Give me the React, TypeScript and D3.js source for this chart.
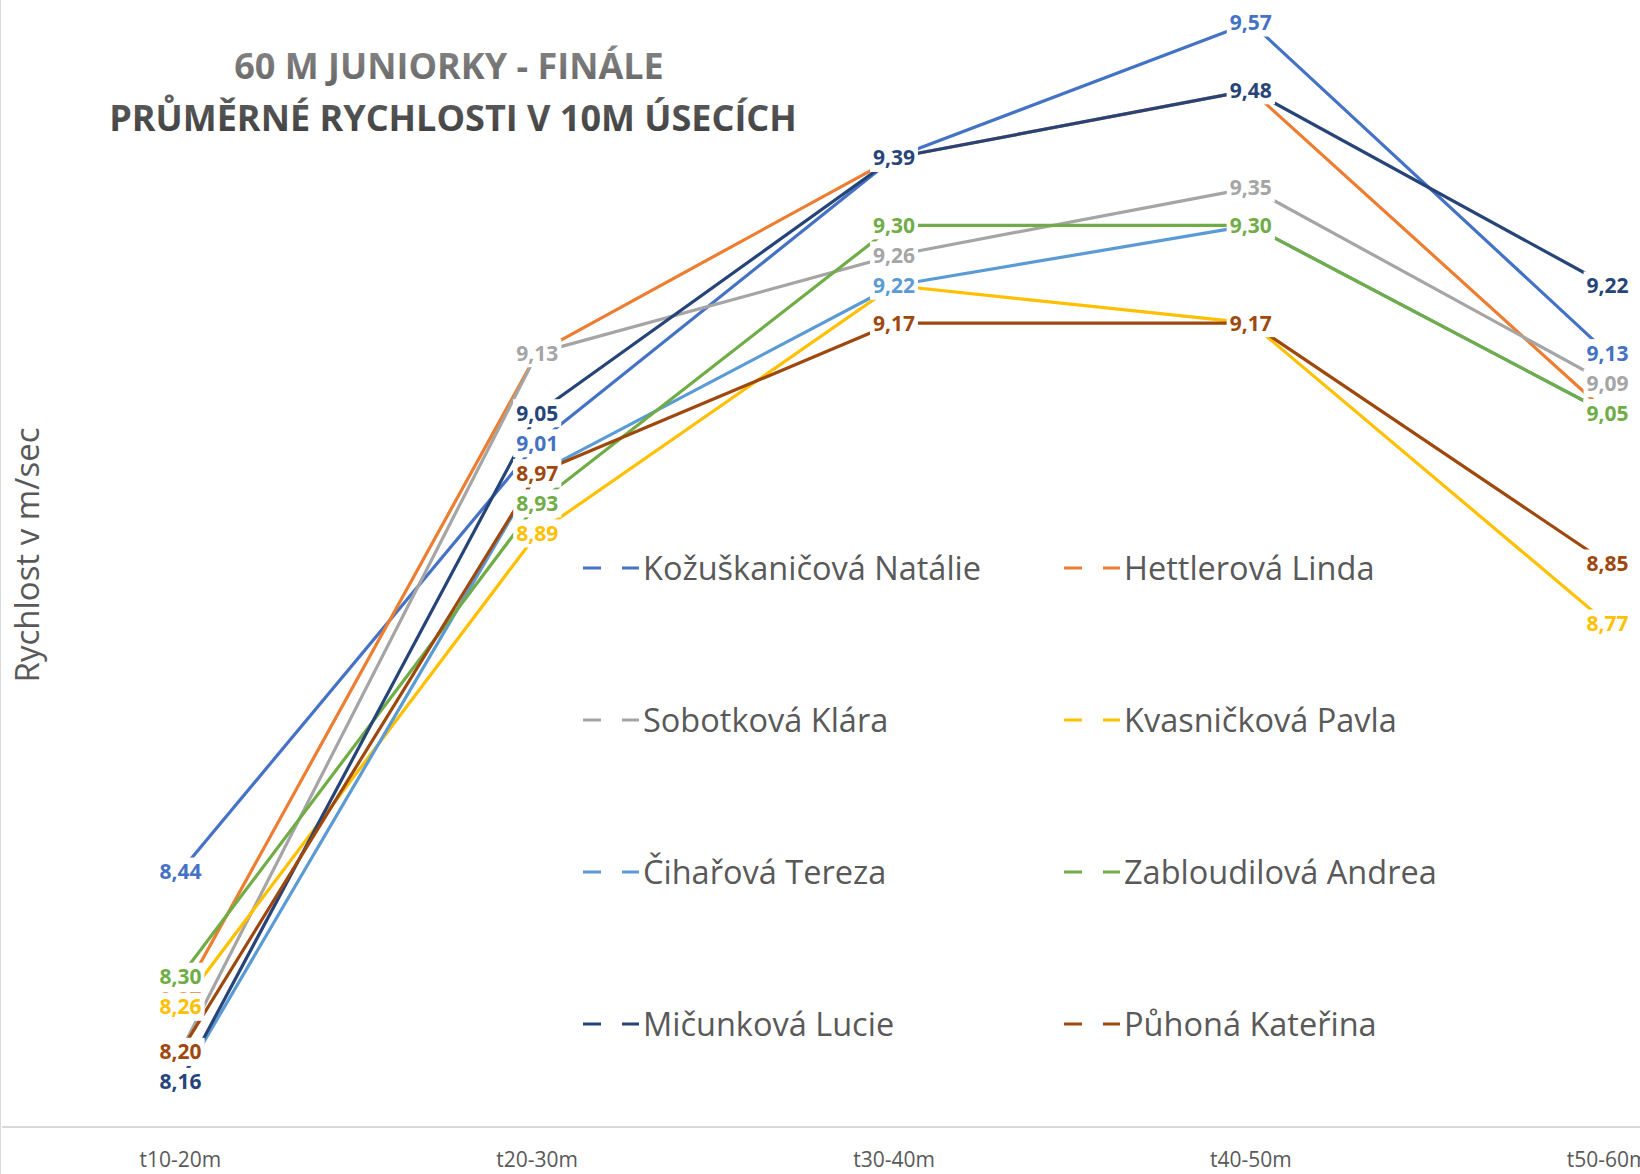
import React, { useEffect, useRef } from 'react';
import * as d3 from 'd3';

const WIDTH = 1640;
const HEIGHT = 1174;
// plot area runs past the right edge, the last category is cut off like in the original export
const PLOT = { left: 2, right: 1786, top: 0, bottom: 1127 };

const CATEGORIES = ['t10-20m', 't20-30m', 't30-40m', 't40-50m', 't50-60m'];

const KOZUSKANICOVA = [8.44, 9.01, 9.39, 9.57, 9.13];
const HETTLEROVA = [8.27, 9.13, 9.39, 9.48, 9.05];
const SOBOTKOVA = [8.2, 9.13, 9.26, 9.35, 9.09];
const KVASNICKOVA = [8.26, 8.89, 9.22, 9.17, 8.77];
const CIHAROVA = [8.16, 8.97, 9.22, 9.3, 9.05];
const ZABLOUDILOVA = [8.3, 8.93, 9.3, 9.3, 9.05];
const MICUNKOVA = [8.16, 9.05, 9.39, 9.48, 9.22];
const PUHONA = [8.2, 8.97, 9.17, 9.17, 8.85];

const NAMES = [
  'Kožuškaničová Natálie',
  'Hettlerová Linda',
  'Sobotková Klára',
  'Kvasničková Pavla',
  'Čihařová Tereza',
  'Zabloudilová Andrea',
  'Mičunková Lucie',
  'Půhoná Kateřina',
];
const VALUES = [KOZUSKANICOVA, HETTLEROVA, SOBOTKOVA, KVASNICKOVA, CIHAROVA, ZABLOUDILOVA, MICUNKOVA, PUHONA];
const COLORS = ['#4472C4', '#ED7D31', '#A5A5A5', '#FFC000', '#5B9BD5', '#70AD47', '#264478', '#9E480E'];

const Y_MIN = 8.1;
const Y_MAX = 9.6;

const FONT = '"Open Sans", "Noto Sans", sans-serif';
const TEXT_GREY = '#595959';

const fmt = (v) => d3.format('.2f')(v).replace('.', ',');

const App = () => {
  const svgRef = useRef(null);

  useEffect(() => {
    const svg = d3.select(svgRef.current);
    svg.selectAll('*').remove();

    const x = d3
      .scaleBand()
      .domain(CATEGORIES)
      .range([PLOT.left, PLOT.right])
      .padding(0);
    const cx = (c) => x(c) + x.bandwidth() / 2;

    const y = d3.scaleLinear().domain([Y_MIN, Y_MAX]).range([PLOT.bottom, PLOT.top]);

    // title gradient
    const defs = svg.append('defs');
    const grad = defs
      .append('linearGradient')
      .attr('id', 'titleGrad')
      .attr('x1', 0)
      .attr('y1', 0)
      .attr('x2', 0)
      .attr('y2', 1);
    grad.append('stop').attr('offset', '0%').attr('stop-color', '#8a8a8a');
    grad.append('stop').attr('offset', '100%').attr('stop-color', '#3a3a3a');

    svg.append('rect').attr('width', WIDTH).attr('height', HEIGHT).attr('fill', '#fff');

    // chart border (left edge only visible)
    svg
      .append('line')
      .attr('x1', 0.5)
      .attr('x2', 0.5)
      .attr('y1', 0)
      .attr('y2', HEIGHT)
      .attr('stroke', '#d9d9d9')
      .attr('stroke-width', 1);

    // category axis
    svg
      .append('line')
      .attr('x1', PLOT.left)
      .attr('x2', WIDTH)
      .attr('y1', PLOT.bottom)
      .attr('y2', PLOT.bottom)
      .attr('stroke', '#d9d9d9')
      .attr('stroke-width', 2);

    svg
      .append('g')
      .selectAll('text')
      .data(CATEGORIES)
      .join('text')
      .attr('x', (d) => cx(d))
      .attr('y', PLOT.bottom + 40)
      .attr('text-anchor', 'middle')
      .attr('font-family', FONT)
      .attr('font-size', 21)
      .attr('fill', TEXT_GREY)
      .text((d) => d);

    // y axis title
    svg
      .append('text')
      .attr('transform', 'translate(39,555) rotate(-90)')
      .attr('text-anchor', 'middle')
      .attr('font-family', FONT)
      .attr('font-size', 33)
      .attr('fill', TEXT_GREY)
      .text('Rychlost v m/sec');

    // title
    const title = svg
      .append('text')
      .attr('text-anchor', 'middle')
      .attr('font-family', FONT)
      .attr('font-weight', 700)
      .attr('font-size', 36)
      .attr('fill', 'url(#titleGrad)');
    title.append('tspan').attr('x', 449).attr('y', 79).text('60 M JUNIORKY - FINÁLE');
    title.append('tspan').attr('x', 453).attr('y', 131).text('PRŮMĚRNÉ RYCHLOSTI V 10M ÚSECÍCH');

    // lines
    const line = d3
      .line()
      .x((d, i) => cx(CATEGORIES[i]))
      .y((d) => y(d));

    svg
      .append('g')
      .selectAll('path')
      .data(VALUES)
      .join('path')
      .attr('d', (d) => line(d))
      .attr('fill', 'none')
      .attr('stroke', (d, i) => COLORS[i])
      .attr('stroke-width', 3.2)
      .attr('stroke-linejoin', 'round');

    // data labels, centred on the points with a white box
    const labels = svg.append('g');
    VALUES.forEach((vals, si) => {
      vals.forEach((v, ci) => {
        const g = labels.append('g').attr('transform', `translate(${cx(CATEGORIES[ci])},${y(v)})`);
        const rect = g.append('rect').attr('fill', '#fff');
        const t = g
          .append('text')
          .attr('text-anchor', 'middle')
          .attr('dy', '0.36em')
          .attr('font-family', FONT)
          .attr('font-weight', 700)
          .attr('font-size', 21)
          .attr('fill', COLORS[si])
          .text(fmt(v));
        const w = t.node().getComputedTextLength();
        rect
          .attr('x', -w / 2 - 3)
          .attr('y', -14)
          .attr('width', w + 6)
          .attr('height', 28);
      });
    });

    // legend, two columns
    const legend = svg.append('g');
    NAMES.forEach((name, i) => {
      const col = i % 2;
      const row = Math.floor(i / 2);
      const lx = 583 + col * 481;
      const ly = 568 + row * 152;
      legend
        .append('line')
        .attr('x1', lx)
        .attr('x2', lx + 56)
        .attr('y1', ly)
        .attr('y2', ly)
        .attr('stroke', COLORS[i])
        .attr('stroke-width', 3.2)
        .attr('stroke-dasharray', '18 21');
      legend
        .append('text')
        .attr('x', lx + 60)
        .attr('y', ly)
        .attr('dy', '0.36em')
        .attr('font-family', FONT)
        .attr('font-size', 32.5)
        .attr('fill', TEXT_GREY)
        .text(name);
    });
  }, []);

  return (
    <div style={{ position: 'absolute', left: 0, top: 0 }}>
      <svg ref={svgRef} width={WIDTH} height={HEIGHT} style={{ display: 'block', overflow: 'hidden' }}></svg>
    </div>
  );
};

export default App;
